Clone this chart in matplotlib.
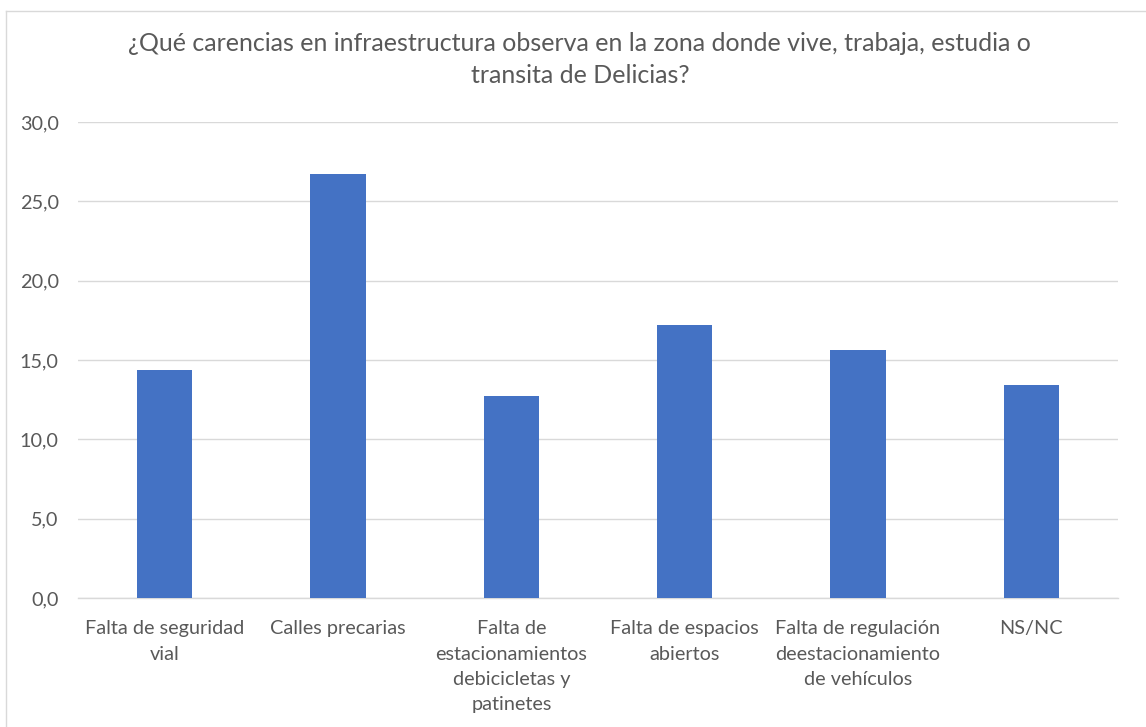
import matplotlib
matplotlib.use("Agg")
import matplotlib.pyplot as plt
from matplotlib.lines import Line2D
from matplotlib.ticker import FuncFormatter, MultipleLocator

categories = [
    "Falta de seguridad\nvial",
    "Calles precarias",
    "Falta de\nestacionamientos\ndebicicletas y\npatinetes",
    "Falta de espacios\nabiertos",
    "Falta de regulación\ndeestacionamiento\nde vehículos",
    "NS/NC",
]
values = [14.4, 26.7, 12.7, 17.2, 15.6, 13.4]
title = "¿Qué carencias en infraestructura observa en la zona donde vive, trabaja, estudia o\ntransita de Delicias?"

plt.rcParams['font.family'] = ['Lato', 'DejaVu Sans']
W, H = 1146, 727
fig = plt.figure(figsize=(W / 100, H / 100), dpi=100)
ax = fig.add_axes([78 / W, 1 - 598 / H, (1118 - 78) / W, (598 - 122) / H])

x = list(range(len(categories)))
ax.bar(x, values, width=0.32, color="#4472C4", zorder=3)
ax.set_xlim(-0.5, len(categories) - 0.5)
ax.set_ylim(0, 30)
ax.yaxis.set_major_locator(MultipleLocator(5))
ax.yaxis.set_major_formatter(FuncFormatter(lambda v, p: f"{v:.1f}".replace(".", ",")))
ax.grid(axis="y", color="#D9D9D9", linewidth=1, zorder=0)
for s in ["top", "right", "left"]:
    ax.spines[s].set_visible(False)
ax.spines["bottom"].set_color("#D9D9D9")
ax.spines["bottom"].set_linewidth(1)
ax.set_xticks(x)
ax.set_xticklabels(categories, linespacing=1.6)
ax.tick_params(axis="both", length=0, colors="#595959", labelsize=14.3)
ax.tick_params(axis="y", pad=14)
ax.tick_params(axis="x", pad=16)

fig.text(0.506, 1 - 59.5 / H, title, ha="center", va="center", fontsize=18,
         color="#595959", linespacing=1.43)

# chart area border
fig.add_artist(Line2D([6 / W, 1], [1 - 11 / H, 1 - 11 / H], color="#D9D9D9", lw=1))
fig.add_artist(Line2D([6 / W, 6 / W], [0, 1 - 11 / H], color="#D9D9D9", lw=1))

fig.savefig("out.png", dpi=100, facecolor="white")
